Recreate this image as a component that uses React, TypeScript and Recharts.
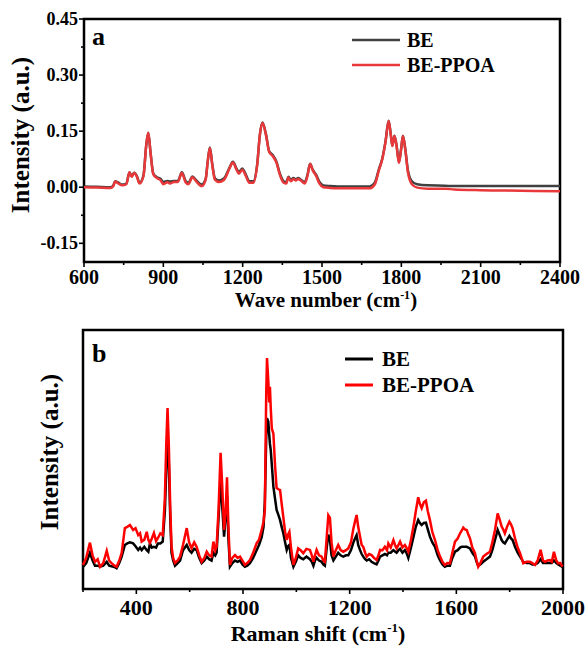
import React from 'react';
import { LineChart, Line, XAxis, YAxis, Legend, ReferenceArea, Label } from 'recharts';

const FONT = '"Liberation Serif", "Times New Roman", serif';

// ---------- Panel a ----------
const waveA = [600, 650, 700, 710, 718, 730, 745, 760, 772, 780, 790, 800, 810, 825, 835, 843, 852, 862, 875, 890, 900, 915, 925, 940, 955, 970, 985, 995, 1010, 1025, 1045, 1060, 1068, 1076, 1085, 1095, 1110, 1130, 1150, 1163, 1178, 1186, 1198, 1212, 1225, 1240, 1255, 1265, 1275, 1288, 1300, 1315, 1328, 1340, 1355, 1365, 1373, 1382, 1392, 1400, 1410, 1420, 1435, 1445, 1455, 1465, 1478, 1490, 1505, 1530, 1560, 1600, 1640, 1680, 1700, 1715, 1728, 1740, 1752, 1760, 1766, 1774, 1782, 1791, 1799, 1806, 1815, 1825, 1840, 1860, 1900, 1965, 2000, 2100, 2200, 2300, 2400];
const ppoaA = [0, -0.001, -0.002, 0.002, 0.015, 0.01, 0.005, 0.008, 0.04, 0.028, 0.038, 0.028, 0.01, 0.03, 0.11, 0.146, 0.09, 0.035, 0.025, 0.018, 0.008, 0.013, 0.01, 0.014, 0.014, 0.038, 0.012, 0.008, 0.027, 0.015, 0.003, 0.02, 0.07, 0.105, 0.06, 0.02, 0.014, 0.02, 0.05, 0.066, 0.045, 0.036, 0.047, 0.03, 0.012, 0.012, 0.06, 0.14, 0.172, 0.14, 0.095, 0.082, 0.065, 0.035, 0.012, 0.01, 0.026, 0.016, 0.022, 0.018, 0.022, 0.018, 0.01, 0.03, 0.062, 0.045, 0.03, 0.01, 0.0, -0.002, -0.003, -0.003, -0.003, -0.003, 0.008, 0.045, 0.075, 0.12, 0.177, 0.14, 0.11, 0.137, 0.11, 0.065, 0.1, 0.137, 0.1, 0.04, 0.008, -0.001, -0.004, -0.004, -0.006, -0.008, -0.009, -0.01, -0.011];
const beA = [0.002, 0.001, 0, 0.004, 0.016, 0.012, 0.007, 0.01, 0.04, 0.03, 0.039, 0.03, 0.012, 0.032, 0.11, 0.146, 0.09, 0.037, 0.027, 0.022, 0.014, 0.017, 0.015, 0.017, 0.017, 0.04, 0.016, 0.012, 0.029, 0.018, 0.007, 0.022, 0.07, 0.106, 0.062, 0.024, 0.018, 0.024, 0.052, 0.068, 0.048, 0.04, 0.05, 0.034, 0.016, 0.016, 0.062, 0.14, 0.173, 0.142, 0.097, 0.085, 0.068, 0.038, 0.016, 0.014, 0.028, 0.02, 0.025, 0.021, 0.025, 0.02, 0.014, 0.033, 0.063, 0.047, 0.033, 0.015, 0.005, 0.003, 0.002, 0.002, 0.002, 0.002, 0.013, 0.048, 0.077, 0.122, 0.178, 0.142, 0.112, 0.138, 0.112, 0.068, 0.102, 0.138, 0.102, 0.045, 0.016, 0.008, 0.005, 0.004, 0.003, 0.003, 0.003, 0.003, 0.003];
const xTicksA = [600, 750, 900, 1050, 1200, 1350, 1500, 1650, 1800, 1950, 2100, 2250, 2400];
const xMajorA = [600, 900, 1200, 1500, 1800, 2100, 2400];
const yTicksA = [-0.15, -0.075, 0, 0.075, 0.15, 0.225, 0.3, 0.375, 0.45];
const yMajorA = [-0.15, 0, 0.15, 0.3, 0.45];

// ---------- Panel b ----------
const shiftB = [200, 212, 226, 236, 245, 255, 264, 276, 289, 298, 307, 318, 326, 336, 345, 357, 366, 376, 388, 397, 407, 414, 420, 430, 439, 445, 451, 458, 466, 474, 481, 490, 499, 507, 512, 517, 522, 527, 532, 538, 545, 555, 564, 575, 589, 598, 607, 617, 626, 636, 645, 655, 664, 673, 682, 689, 696, 701, 708, 716, 722, 729, 735, 740, 745, 751, 760, 770, 780, 789, 798, 807, 816, 826, 838, 851, 860, 870, 877, 882, 887, 890, 895, 898, 901, 904, 908, 914, 920, 926, 933, 939, 945, 951, 958, 964, 969, 974, 980, 989, 998, 1007, 1016, 1026, 1038, 1051, 1058, 1064, 1070, 1076, 1085, 1095, 1101, 1107, 1114, 1120, 1126, 1132, 1139, 1148, 1157, 1166, 1176, 1186, 1195, 1205, 1214, 1220, 1226, 1232, 1239, 1245, 1251, 1258, 1264, 1273, 1282, 1291, 1301, 1308, 1314, 1323, 1332, 1340, 1345, 1354, 1364, 1370, 1376, 1383, 1389, 1398, 1407, 1413, 1420, 1430, 1439, 1448, 1457, 1463, 1470, 1478, 1486, 1493, 1501, 1510, 1520, 1530, 1539, 1548, 1557, 1566, 1576, 1585, 1595, 1605, 1614, 1620, 1626, 1632, 1639, 1645, 1651, 1660, 1670, 1676, 1682, 1690, 1701, 1713, 1726, 1735, 1745, 1755, 1762, 1770, 1776, 1782, 1790, 1799, 1805, 1811, 1820, 1830, 1839, 1851, 1863, 1876, 1885, 1895, 1905, 1916, 1925, 1932, 1942, 1951, 1958, 1966, 1975, 1982, 1990, 1998];
const ppoaB = [9.3, 12, 17.9, 13, 10.5, 11.5, 8.6, 10, 14.7, 11, 10, 9, 8.6, 11, 13.9, 23.5, 24, 24.7, 22.8, 23.5, 20.8, 21.5, 18.3, 19, 22.1, 19, 17.8, 19.5, 21.6, 18.5, 19.7, 21.5, 20.8, 35, 55, 69.9, 55, 32, 16.3, 12, 10, 11, 12.5, 17, 23.5, 18, 15.8, 18, 16.3, 13, 10.5, 12, 14.4, 13, 12.5, 18.3, 15, 16.3, 30, 52.6, 40, 22.8, 30, 43.1, 25, 9.3, 12, 13.1, 12, 12.5, 11, 9.3, 10, 11.2, 14, 17.6, 19, 22.8, 26, 30.5, 75, 89.2, 80, 72, 78.1, 70, 62, 60, 48, 39, 38.5, 38.2, 33, 27.9, 22, 18.9, 21, 22.1, 16, 9.3, 12, 15.7, 15, 13.8, 15.5, 15.1, 13, 10.5, 13, 15.1, 13, 12.5, 11, 10.5, 20, 28.5, 27.5, 18, 12.5, 15, 17, 15, 14.4, 15, 15.7, 18, 23.4, 26, 28.6, 24, 20.2, 17, 16.3, 14, 12.5, 13.5, 13.1, 12, 11.2, 13, 15.1, 15, 16.3, 15, 17.6, 16, 18.9, 17, 15.7, 17, 18.3, 16, 17, 16, 14.4, 19, 24.1, 30, 35.4, 33, 31.2, 33.5, 34.1, 30, 26.6, 22, 18.9, 15, 12.5, 10.5, 9.3, 10, 9.9, 14, 18.3, 19.5, 21.5, 22.5, 23.7, 23, 22.8, 21, 19.6, 16, 13.8, 11, 8.6, 10, 12.5, 13.5, 14.4, 18, 22.8, 29.2, 27, 24.1, 23, 21.5, 24, 26, 25, 23.4, 19.6, 16, 13.8, 9.9, 10.5, 10.5, 10, 9.3, 11, 15.1, 11, 10.5, 11, 11.2, 10.5, 14.4, 11, 9.9, 10, 8.6];
const beB = [8.5, 10, 14, 11, 9, 9, 8.6, 9, 10.5, 9, 8.8, 8.5, 8, 10, 12.5, 17, 17.6, 18, 17.6, 16.5, 15.1, 16, 15, 16.3, 15, 14.4, 17.6, 16, 16.3, 16, 17.6, 17.6, 18.3, 30, 45, 60, 48, 28, 14, 11, 9, 10, 11, 15, 17, 15, 14, 15.5, 15, 12, 10, 11, 12.5, 11.5, 11, 14, 13, 14, 27, 42, 32, 20.2, 28, 36, 20, 8.6, 10, 11, 10.5, 11, 9.5, 8.6, 9, 10, 12, 15, 17, 20, 24, 34, 58, 66, 64.6, 60, 56, 53.7, 48, 39.5, 35, 30.5, 28.5, 26.6, 24, 21.6, 18, 15.1, 16.5, 17, 12, 8.6, 10.5, 13, 12, 11.5, 12.5, 11.5, 10.5, 9, 11, 12, 11, 10.5, 9.5, 9, 16, 21, 19, 13, 11, 12.5, 14, 13, 12.5, 13, 13, 15, 18, 19.5, 20.8, 17, 15, 13.5, 12.5, 11.5, 11, 11.5, 10.5, 10, 9.5, 11, 12.5, 13, 13.5, 13, 14, 14, 15, 14.5, 14, 15, 15.5, 14, 15, 14, 12, 16, 20, 24, 26.6, 25.5, 24.7, 25.5, 25.6, 23, 20.2, 18, 16.3, 13, 11, 9.5, 8.6, 9, 9, 12, 14.4, 15, 16, 16.3, 16.3, 16.3, 16.3, 16, 15.7, 14, 12.5, 10.5, 9, 9.5, 10.5, 11.5, 12.5, 15, 18.9, 22.8, 21, 18.9, 18, 17.6, 19, 20.5, 19.5, 18.9, 16.3, 14, 12.5, 10.5, 10, 10, 9.5, 9.5, 10, 11.5, 10, 10, 10, 10, 10, 11, 10, 9.5, 9, 8.5];
const xTicksB = [200, 400, 600, 800, 1000, 1200, 1400, 1600, 1800, 2000];
const xMajorB = [400, 800, 1200, 1600, 2000];

const dataA = waveA.map((w, i) => ({ w, be: beA[i], ppoa: ppoaA[i] }));
const dataB = shiftB.map((w, i) => ({ w, be: beB[i], ppoa: ppoaB[i] }));

const isMajor = (v: number, majors: number[]) => majors.some((m) => Math.abs(m - v) < 1e-9);

function makeXTick(majors: number[], fontSize: number, dy: number, fmt: (v: number) => string) {
  return (props: any) => {
    const { x, y, payload } = props;
    const v = payload.value;
    const major = isMajor(v, majors);
    return (
      <g>
        <line x1={x} x2={x} y1={y} y2={y + (major ? 5 : 3)} stroke="#000" strokeWidth={1.6} />
        {major && (
          <text x={x} y={y + dy} textAnchor="middle" fontFamily={FONT} fontWeight="bold" fontSize={fontSize} fill="#000">
            {fmt(v)}
          </text>
        )}
      </g>
    );
  };
}

function makeYTick(majors: number[], fontSize: number, fmt: (v: number) => string) {
  return (props: any) => {
    const { x, y, payload } = props;
    const v = payload.value;
    const major = isMajor(v, majors);
    return (
      <g>
        <line x1={x} x2={x - (major ? 5 : 3)} y1={y} y2={y} stroke="#000" strokeWidth={1.6} />
        {major && (
          <text x={x - 6} y={y + 6} textAnchor="end" fontFamily={FONT} fontWeight="bold" fontSize={fontSize} fill="#000">
            {fmt(v)}
          </text>
        )}
      </g>
    );
  };
}

function makeLegend(lineLen: number, rowGap: number, textGap: number, fontSize: number, strokeW: number) {
  return (props: any) => {
    const payload = props.payload || [];
    return (
      <svg width={230} height={rowGap * 2 + 12} style={{ overflow: 'visible' }}>
        {payload.map((p: any, i: number) => (
          <g key={i}>
            <line x1={2} x2={2 + lineLen} y1={15 + i * rowGap} y2={15 + i * rowGap} stroke={p.color} strokeWidth={strokeW} />
            <text x={2 + lineLen + textGap} y={15 + i * rowGap + 7} fontFamily={FONT} fontWeight="bold" fontSize={fontSize} fill="#000">
              {p.value}
            </text>
          </g>
        ))}
      </svg>
    );
  };
}

const XTickA = makeXTick(xMajorA, 20, 22, (v) => String(v));
const YTickA = makeYTick(yMajorA, 18, (v) => v.toFixed(2));
const XTickB = makeXTick(xMajorB, 22, 26, (v) => String(v));
const LegendA = makeLegend(48, 25, 7, 20, 2.5);
const LegendB = makeLegend(28, 26, 9, 21, 3);

export default function App() {
  return (
    <div style={{ position: 'absolute', left: 0, top: 0, width: 588, height: 651, background: '#fff' }}>
      <div style={{ position: 'absolute', left: 0, top: 0 }}>
        <LineChart width={588} height={322} data={dataA} margin={{ top: 19, right: 28, left: 24, bottom: 30 }}>
          <XAxis
            dataKey="w"
            type="number"
            domain={[600, 2400]}
            ticks={xTicksA}
            interval={0}
            height={30}
            axisLine={false}
            tickLine={false}
            tickSize={0}
            tickMargin={0}
            tick={XTickA}
          >
            <Label
              content={() => (
                <text x={326} y={307} textAnchor="middle" fontFamily={FONT} fontWeight="bold" fill="#000">
                  <tspan fontSize={21}>Wave number (cm</tspan>
                  <tspan fontSize={12} dy={-8}>-1</tspan>
                  <tspan fontSize={21} dy={8}>)</tspan>
                </text>
              )}
            />
          </XAxis>
          <YAxis
            type="number"
            domain={[-0.2, 0.45]}
            ticks={yTicksA}
            interval={0}
            width={60}
            axisLine={false}
            tickLine={false}
            tickSize={0}
            tickMargin={0}
            tick={YTickA}
          >
            <Label
              content={() => (
                <text x={29} y={135} transform="rotate(-90 29 135)" textAnchor="middle" fontFamily={FONT} fontWeight="bold" fontSize={25} fill="#000">
                  Intensity (a.u.)
                </text>
              )}
            />
          </YAxis>
          <ReferenceArea x1={600} x2={2400} y1={-0.2} y2={0.45} fill="none" stroke="#000" strokeWidth={2.5}>
            <Label
              content={() => (
                <text x={92} y={45} fontFamily={FONT} fontWeight="bold" fontSize={26} fill="#000">
                  a
                </text>
              )}
            />
          </ReferenceArea>
          <Line dataKey="be" name="BE" type="monotone" stroke="#404040" strokeWidth={2.5} dot={false} isAnimationActive={false} />
          <Line dataKey="ppoa" name="BE-PPOA" type="monotone" stroke="#e8383a" strokeWidth={2.5} dot={false} isAnimationActive={false} />
          <Legend
            layout="vertical"
            align="center"
            verticalAlign="middle"
            content={LegendA}
            wrapperStyle={{ position: 'absolute', left: 350, top: 25, width: 230, height: 62 }}
          />
        </LineChart>
      </div>
      <div style={{ position: 'absolute', left: 0, top: 310 }}>
        <LineChart width={588} height={341} data={dataB} margin={{ top: 20, right: 25, left: 83, bottom: 32 }}>
          <XAxis
            dataKey="w"
            type="number"
            domain={[200, 2000]}
            ticks={xTicksB}
            interval={0}
            height={30}
            axisLine={false}
            tickLine={false}
            tickSize={0}
            tickMargin={0}
            tick={XTickB}
          >
            <Label
              content={() => (
                <text x={318} y={331} textAnchor="middle" fontFamily={FONT} fontWeight="bold" fill="#000">
                  <tspan fontSize={22}>Raman shift (cm</tspan>
                  <tspan fontSize={13} dy={-9}>-1</tspan>
                  <tspan fontSize={22} dy={9}>)</tspan>
                </text>
              )}
            />
          </XAxis>
          <YAxis type="number" domain={[0, 100]} hide />
          <ReferenceArea x1={200} x2={2000} y1={0} y2={100} fill="none" stroke="#000" strokeWidth={2.5}>
            <Label
              content={() => (
                <g>
                  <text x={92} y={52} fontFamily={FONT} fontWeight="bold" fontSize={26} fill="#000">
                    b
                  </text>
                  <text x={58} y={142} transform="rotate(-90 58 142)" textAnchor="middle" fontFamily={FONT} fontWeight="bold" fontSize={25} fill="#000">
                    Intensity (a.u.)
                  </text>
                </g>
              )}
            />
          </ReferenceArea>
          <Line dataKey="be" name="BE" type="linear" stroke="#000000" strokeWidth={2.5} dot={false} isAnimationActive={false} />
          <Line dataKey="ppoa" name="BE-PPOA" type="linear" stroke="#ff0000" strokeWidth={2.5} dot={false} isAnimationActive={false} />
          <Legend
            layout="vertical"
            align="center"
            verticalAlign="middle"
            content={LegendB}
            wrapperStyle={{ position: 'absolute', left: 343, top: 34, width: 230, height: 64 }}
          />
        </LineChart>
      </div>
    </div>
  );
}
